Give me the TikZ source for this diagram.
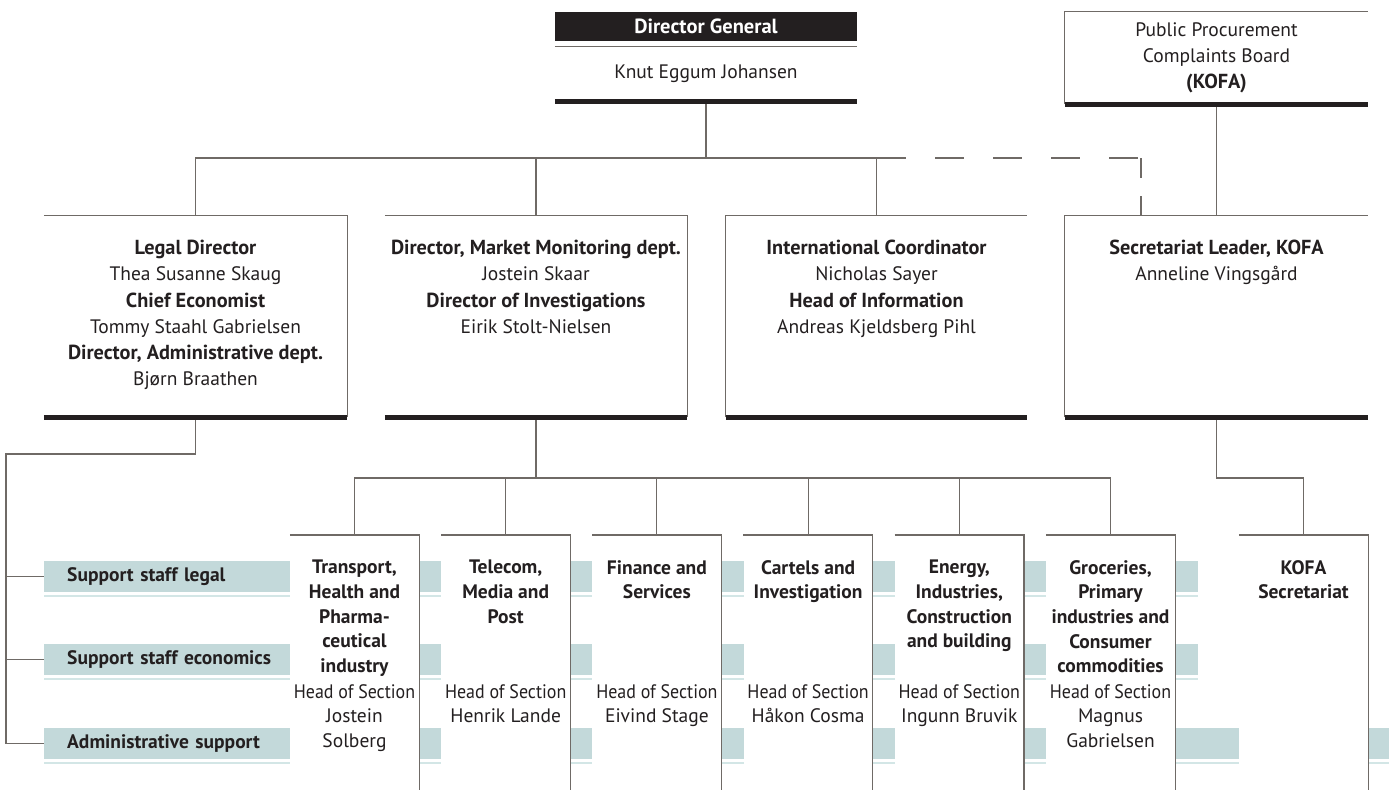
\documentclass[tikz,border=0pt]{standalone}
\usepackage{graphicx}
\usepackage{fontspec}
\setmainfont{PT Sans}
\definecolor{ink}{HTML}{231F20}
\definecolor{linegray}{HTML}{6F6A66}
\definecolor{barblack}{HTML}{231F20}
\definecolor{bandteal}{HTML}{C3D9DA}
\definecolor{bandrule}{HTML}{D3E6E6}
\newcommand{\role}[1]{{\fontsize{20.3}{26.3}\selectfont\bfseries #1}}
\newcommand{\headsec}{\scalebox{0.92}[1]{Head of Section}}

\begin{document}
\begin{tikzpicture}[x=1pt, y=-1pt]
          \tikzstyle{link}=[draw=linegray, line width=1.1pt]
          \tikzstyle{dashlink}=[link, dash pattern=on 29pt off 29pt, dash phase=29pt]
          \tikzstyle{bar}=[draw=barblack, line width=5pt]
          \tikzstyle{frame}=[inner sep=0pt, text=ink, font=\fontsize{19.5}{26}\selectfont]
          \tikzstyle{boxtxt}=[anchor=north, yshift=-24pt, align=center, inner sep=0pt, text=ink, font=\fontsize{19.5}{26.3}\selectfont]
          \tikzstyle{colbox}=[fill=white, anchor=north, inner sep=0pt, minimum width=129pt, minimum height=255pt]
          \tikzstyle{coltxt}=[anchor=north, yshift=-25pt, align=center, inner sep=0pt, text=ink, font=\bfseries\fontsize{19.5}{24.7}\selectfont]
          \tikzstyle{headtxt}=[anchor=north, align=center, inner sep=0pt, text=ink, font=\fontsize{19.5}{24.7}\selectfont]
          \tikzstyle{bandbox}=[fill=bandteal, anchor=west, inner xsep=23pt, inner ysep=0pt, minimum height=31pt, align=left, text=ink, font=\bfseries\fontsize{19.5}{24}\selectfont]
          \tikzstyle{rule}=[draw=bandrule, line width=1.5pt]

          \useasboundingbox (0, 0) rectangle (1389, 790);

          \node (SL) at (44, 576.5) [bandbox, text width=1108pt] {Support staff legal};
          \node (SE) at (44, 659.5) [bandbox, text width=1108pt] {Support staff economics};
          \node (AS) at (44, 743.5) [bandbox, text width=1299pt] {Administrative support};
          \draw[rule] ([yshift=-4pt]SL.south west) -- ([yshift=-4pt]SL.south east);
          \draw[rule] ([yshift=-4pt]SE.south west) -- ([yshift=-4pt]SE.south east);
          \draw[rule] ([yshift=-4pt]AS.south west) -- ([yshift=-4pt]AS.south east);

          \node (C1) at (354.5, 535) [colbox] {};
          \node (C2) at (505.7, 535) [colbox] {};
          \node (C3) at (656.9, 535) [colbox] {};
          \node (C4) at (808.1, 535) [colbox] {};
          \node (C5) at (959.3, 535) [colbox] {};
          \node (C6) at (1110.5, 535) [colbox] {};
          \node (C7) at (1303.5, 535) [colbox] {};
          \draw[link] (C1.north west) -- (C1.north east) -- (C1.south east);
          \draw[link] (C2.north west) -- (C2.north east) -- (C2.south east);
          \draw[link] (C3.north west) -- (C3.north east) -- (C3.south east);
          \draw[link] (C4.north west) -- (C4.north east) -- (C4.south east);
          \draw[link] (C5.north west) -- (C5.north east) -- (C5.south east);
          \draw[link] (C6.north west) -- (C6.north east) -- (C6.south east);
          \draw[link] (C7.north west) -- (C7.north east) -- (C7.south east);

          \node (C1t) at (C1.north) [coltxt] {Transport,\\Health and\\Pharma-\\ceutical\\industry};
          \node (C2t) at (C2.north) [coltxt] {Telecom,\\Media and\\Post};
          \node (C3t) at (C3.north) [coltxt] {Finance and\\Services};
          \node (C4t) at (C4.north) [coltxt] {Cartels and\\Investigation};
          \node (C5t) at (C5.north) [coltxt] {Energy,\\Industries,\\Construction\\and building};
          \node (C6t) at (C6.north) [coltxt] {Groceries,\\Primary\\industries and\\Consumer\\commodities};
          \node (C7t) at (C7.north) [coltxt] {KOFA\\Secretariat};

          \coordinate (hos) at (0, 684);
          \node (C1h) at (C1.north |- hos) [headtxt] {\headsec\\Jostein\\Solberg};
          \node (C2h) at (C2.north |- hos) [headtxt] {\headsec\\Henrik Lande};
          \node (C3h) at (C3.north |- hos) [headtxt] {\headsec\\Eivind Stage};
          \node (C4h) at (C4.north |- hos) [headtxt] {\headsec\\Håkon Cosma};
          \node (C5h) at (C5.north |- hos) [headtxt] {\headsec\\Ingunn Bruvik};
          \node (C6h) at (C6.north |- hos) [headtxt] {\headsec\\Magnus\\Gabrielsen};

          \node (DGhead) at (706, 26.5) [fill=barblack, text=white, minimum width=302pt, minimum height=29pt, inner sep=0pt, font=\bfseries\fontsize{20.5}{24}\selectfont] {Director General};
          \node (DG) at (706, 74) [frame, minimum width=302pt, minimum height=54pt] {Knut Eggum Johansen};
          \node (KOFA) at (1216.5, 58) [frame, minimum width=303pt, minimum height=92pt, align=center] {Public Procurement\\Complaints Board\\\role{(KOFA)}};

          \node (LEG) at (195.5, 316.5) [frame, minimum width=303pt, minimum height=201pt] {};
          \node (MKT) at (536, 316.5) [frame, minimum width=302pt, minimum height=201pt] {};
          \node (INT) at (876.5, 316.5) [frame, minimum width=301pt, minimum height=201pt] {};
          \node (KLD) at (1216.5, 316.5) [frame, minimum width=303pt, minimum height=201pt] {};

          \node (LEGt) at (LEG.north) [boxtxt] {\role{Legal Director}\\Thea Susanne Skaug\\\role{Chief Economist}\\Tommy Staahl Gabrielsen\\\role{Director, Administrative dept.}\\Bjørn Braathen};
          \node (MKTt) at (MKT.north) [boxtxt] {\role{Director, Market Monitoring dept.}\\Jostein Skaar\\\role{Director of Investigations}\\Eirik Stolt-Nielsen};
          \node (INTt) at (INT.north) [boxtxt] {\role{International Coordinator}\\Nicholas Sayer\\\role{Head of Information}\\Andreas Kjeldsberg Pihl};
          \node (KLDt) at (KLD.north) [boxtxt] {\role{Secretariat Leader, KOFA}\\Anneline Vingsgård};

          \coordinate (bus) at (706, 158);
          \coordinate (busend) at (906, 158);
          \coordinate (dsh) at (1141, 158);
          \coordinate (bus3) at (536, 478);
          \coordinate (brk) at (6, 454);

          \draw[link] (DG.north west) -- (DG.north east);
          \draw[link] (DG.south) -- (bus);
          \draw[link] (LEG.north) |- (busend);
          \draw[link] (MKT.north |- bus) -- (MKT.north);
          \draw[link] (INT.north |- bus) -- (INT.north);
          \draw[dashlink] (busend) -- (dsh);
          \draw[link, dash pattern=on 20pt off 18pt] (dsh) -- (dsh |- KLD.north);
          \draw[link] (KOFA.south) -- (KLD.north);

          \draw[link] (KOFA.south west) -- (KOFA.north west) -- (KOFA.north east);
          \draw[link] (LEG.north west) -- (LEG.north east) -- (LEG.south east);
          \draw[link] (MKT.north west) -- (MKT.north east) -- (MKT.south east);
          \draw[link] (INT.south west) -- (INT.north west) -- (INT.north east);
          \draw[link] (KLD.south west) -- (KLD.north west) -- (KLD.north east);

          \draw[link] (MKT.south) -- (bus3);
          \draw[link] (C1.north) |- (bus3) -| (C6.north);
          \draw[link] (C2.north |- bus3) -- (C2.north);
          \draw[link] (C3.north |- bus3) -- (C3.north);
          \draw[link] (C4.north |- bus3) -- (C4.north);
          \draw[link] (C5.north |- bus3) -- (C5.north);
          \draw[link] (KLD.south) |- (C7.north |- bus3) -- (C7.north);

          \draw[link] (LEG.south) |- (brk) -- (brk |- AS.west);
          \draw[link] (brk |- SL.west) -- (SL.west);
          \draw[link] (brk |- SE.west) -- (SE.west);
          \draw[link] (brk |- AS.west) -- (AS.west);

          \draw[bar] (DG.south west) -- (DG.south east);
          \draw[bar] (KOFA.south west) -- (KOFA.south east);
          \draw[bar] (LEG.south west) -- (LEG.south east);
          \draw[bar] (MKT.south west) -- (MKT.south east);
          \draw[bar] (INT.south west) -- (INT.south east);
          \draw[bar] (KLD.south west) -- (KLD.south east);
        \end{tikzpicture}
\end{document}
